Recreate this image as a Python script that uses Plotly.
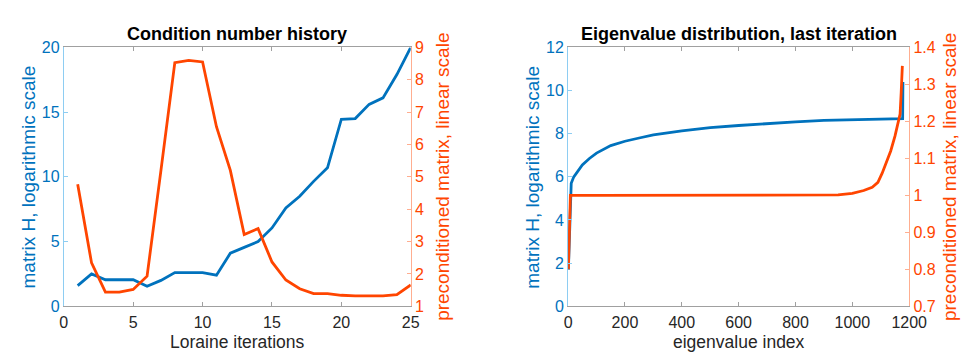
import plotly.graph_objects as go

# Left panel: condition number history
iters = list(range(1, 26))
cond_H = [1.6, 2.5, 2.05, 2.05, 2.05, 1.55, 2.0, 2.6, 2.6, 2.6, 2.4, 4.1, 4.55, 5.0, 6.05,
          7.6, 8.5, 9.65, 10.7, 14.45, 14.5, 15.6, 16.1, 17.9, 20.0]
cond_P = [4.77, 2.34, 1.44, 1.44, 1.52, 1.93, 5.2, 8.53, 8.6, 8.55, 6.55, 5.2, 3.22, 3.4,
          2.37, 1.81, 1.54, 1.39, 1.39, 1.34, 1.32, 1.32, 1.32, 1.36, 1.66]

# Right panel: eigenvalue distribution (sampled read points)
eig_idx_H = [1, 4, 8, 11, 20, 30, 50, 75, 100, 150, 200, 250, 300, 400, 500, 600, 700,
             800, 900, 1000, 1100, 1177, 1178]
eig_H = [1.7, 3.0, 4.8, 5.7, 6.0, 6.2, 6.55, 6.85, 7.1, 7.45, 7.65, 7.8, 7.95, 8.13, 8.28,
         8.38, 8.48, 8.55, 8.62, 8.66, 8.69, 8.7, 10.4]
eig_idx_P = [1, 4, 8, 100, 300, 500, 700, 900, 950, 1000, 1040, 1070, 1090, 1105, 1120,
             1135, 1150, 1160, 1168, 1172, 1176]
eig_P = [0.8, 0.9, 1.0, 1.0, 1.0, 1.0, 1.0, 1.0, 1.001, 1.005, 1.013, 1.022, 1.035, 1.06,
         1.09, 1.12, 1.16, 1.19, 1.22, 1.28, 1.35]

BLUE = "#0072BD"
ORANGE = "#FF4500"
BLUE_AX = "#8ECDF2"
ORANGE_AX = "#FFAE90"
GRAY = "#A0A0A0"
FONT = "Liberation Sans, Arial, Helvetica, sans-serif"

W, H = 970, 352
def px(x):
    return x / W
def py(y):
    return 1 - y / H

fig = go.Figure()
fig.add_trace(go.Scatter(x=iters, y=cond_H, mode="lines", line=dict(color=BLUE, width=2.8),
                         xaxis="x", yaxis="y", showlegend=False))
fig.add_trace(go.Scatter(x=iters, y=cond_P, mode="lines", line=dict(color=ORANGE, width=2.8),
                         xaxis="x", yaxis="y2", showlegend=False))
fig.add_trace(go.Scatter(x=eig_idx_H, y=eig_H, mode="lines", line=dict(color=BLUE, width=2.8),
                         xaxis="x2", yaxis="y3", showlegend=False))
fig.add_trace(go.Scatter(x=eig_idx_P, y=eig_P, mode="lines", line=dict(color=ORANGE, width=2.8),
                         xaxis="x2", yaxis="y4", showlegend=False))

ydom = [py(305), py(33)]
TS = 16
tickfont_b = dict(family=FONT, size=TS, color=BLUE)
tickfont_o = dict(family=FONT, size=TS, color=ORANGE)
tickfont_k = dict(family=FONT, size=TS, color="#262626")

common_x = dict(showline=True, linecolor=GRAY, linewidth=1, mirror="ticks", ticks="inside",
                ticklen=4, tickcolor=GRAY, showgrid=False, zeroline=False, tickfont=tickfont_k,
                ticklabelstandoff=2)
fig.update_layout(
    width=W, height=H, margin=dict(l=0, r=0, t=0, b=0),
    plot_bgcolor="white", paper_bgcolor="white",
    xaxis=dict(domain=[px(53), px(408)], range=[0, 25], dtick=5, anchor="y", **common_x),
    yaxis=dict(domain=ydom, range=[0, 20], dtick=5, anchor="x", showline=True, linecolor=BLUE_AX,
               ticks="inside", ticklen=4, tickcolor=BLUE_AX, showgrid=False, zeroline=False,
               tickfont=tickfont_b),
    yaxis2=dict(range=[1, 9], dtick=1, overlaying="y", side="right", anchor="x", showline=True,
                linecolor=ORANGE_AX, ticks="inside", ticklen=4, tickcolor=ORANGE_AX,
                showgrid=False, zeroline=False, tickfont=tickfont_o),
    xaxis2=dict(domain=[px(569), px(918)], range=[0, 1200], dtick=200, anchor="y3", **common_x),
    yaxis3=dict(domain=ydom, range=[0, 12], dtick=2, anchor="x2", showline=True, linecolor=BLUE_AX,
                ticks="inside", ticklen=4, tickcolor=BLUE_AX, showgrid=False, zeroline=False,
                tickfont=tickfont_b),
    yaxis4=dict(range=[0.7, 1.4], tickvals=[0.7, 0.8, 0.9, 1.0, 1.1, 1.2, 1.3, 1.4],
                ticktext=["0.7", "0.8", "0.9", "1", "1.1", "1.2", "1.3", "1.4"],
                overlaying="y3", side="right", anchor="x2", showline=True,
                linecolor=ORANGE_AX, ticks="inside", ticklen=4, tickcolor=ORANGE_AX,
                showgrid=False, zeroline=False, tickfont=tickfont_o),
)

ann = []
def add(text, x, y, size, color, angle=0, bold=False):
    ann.append(dict(text=f"<b>{text}</b>" if bold else text, x=px(x), y=py(y), xref="paper",
                    yref="paper", showarrow=False, textangle=angle, xanchor="center",
                    yanchor="middle", font=dict(family=FONT, size=size, color=color)))

add("Condition number history", 230.5, 19, 18, "#000000", bold=True)
add("Eigenvalue distribution, last iteration", 743.5, 19, 18, "#000000", bold=True)
add("Loraine iterations", 230.5, 342.5, 17.5, "#262626")
add("eigenvalue index", 743.5, 342.5, 17.5, "#262626")
add("matrix H, logarithmic scale", 17, 169, 19, BLUE, angle=-90)
add("preconditioned matrix, linear scale", 441, 169, 19, ORANGE, angle=-90)
add("matrix H, logarithmic scale", 533, 169, 19, BLUE, angle=-90)
add("preconditioned matrix, linear scale", 960, 169, 19, ORANGE, angle=-90)
fig.update_layout(annotations=ann)

fig.write_html("out.html")
